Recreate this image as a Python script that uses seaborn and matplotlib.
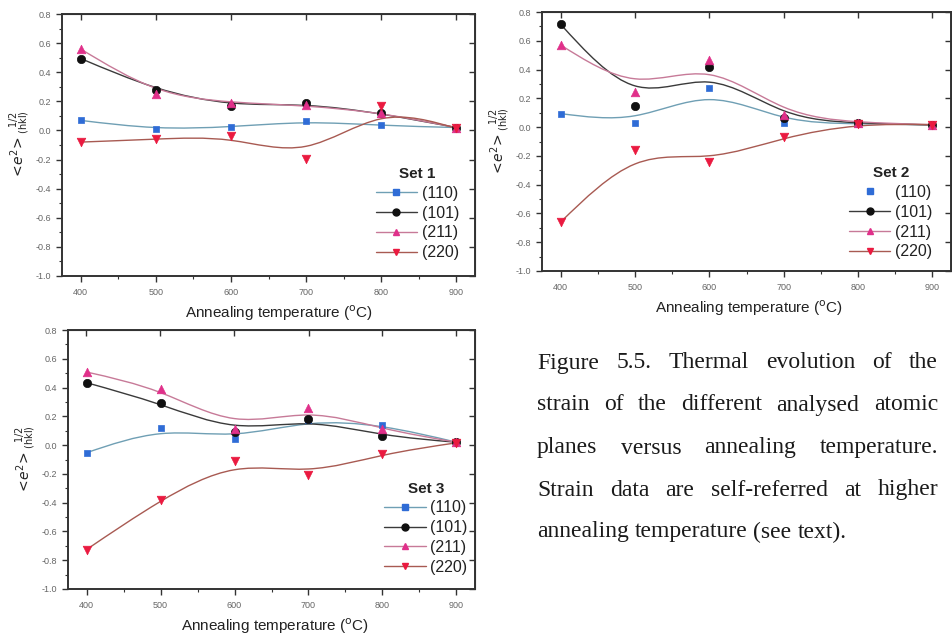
import numpy as np
import pandas as pd
import matplotlib
matplotlib.use("Agg")
import matplotlib.pyplot as plt
import seaborn as sns
from matplotlib.path import Path
from matplotlib.patches import PathPatch
from matplotlib.lines import Line2D
from matplotlib.ticker import MultipleLocator

# ---------------- data ----------------
temperatures = [400, 500, 600, 700, 800, 900]
planes = ["(110)", "(101)", "(211)", "(220)"]

set1_110 = [0.069, 0.007, 0.023, 0.064, 0.034, 0.020]
set1_101 = [0.494, 0.276, 0.168, 0.186, 0.117, 0.020]
set1_211 = [0.559, 0.248, 0.190, 0.172, 0.122, 0.020]
set1_220 = [-0.080, -0.060, -0.038, -0.195, 0.165, 0.015]

set2_110 = [0.094, 0.027, 0.272, 0.031, 0.024, 0.015]
set2_101 = [0.715, 0.147, 0.417, 0.060, 0.027, 0.015]
set2_211 = [0.571, 0.245, 0.464, 0.085, 0.031, 0.017]
set2_220 = [-0.660, -0.159, -0.242, -0.068, 0.024, 0.017]

set3_110 = [-0.053, 0.121, 0.044, 0.175, 0.142, 0.020]
set3_101 = [0.434, 0.290, 0.090, 0.183, 0.063, 0.020]
set3_211 = [0.508, 0.392, 0.114, 0.258, 0.109, 0.020]
set3_220 = [-0.726, -0.378, -0.111, -0.206, -0.060, 0.016]

set_names = ["Set 1", "Set 2", "Set 3"]
set_values = [
    [set1_110, set1_101, set1_211, set1_220],
    [set2_110, set2_101, set2_211, set2_220],
    [set3_110, set3_101, set3_211, set3_220],
]
y_ticks = [0.8, 0.6, 0.4, 0.2, 0.0, -0.2, -0.4, -0.6, -0.8, -1.0]
x_ticks = [400, 500, 600, 700, 800, 900]

caption_lines = [
    "Figure 5.5. Thermal evolution of the",
    "strain of the different analysed atomic",
    "planes versus annealing temperature.",
    "Strain data are self-referred at higher",
    "annealing temperature (see text).",
]

# ---------------- style ----------------
marker_colors = {"(110)": "#2f6cd6", "(101)": "#101010", "(211)": "#e0308a", "(220)": "#ea1a40"}
line_colors = {"(110)": "#6f9fb4", "(101)": "#3a3a3a", "(211)": "#c77a98", "(220)": "#a85a52"}
markers = {"(110)": "s", "(101)": "o", "(211)": "^", "(220)": "v"}
msizes = {"(110)": 24, "(101)": 36, "(211)": 38, "(220)": 38}

sns.set_style("ticks")
plt.rcParams["font.family"] = ["Liberation Sans", "DejaVu Sans"]

W, H = 953, 637
fig = plt.figure(figsize=(W / 100, H / 100), dpi=100)


def px_axes(l, t, r, b):
    return fig.add_axes([l / W, 1 - b / H, (r - l) / W, (b - t) / H])


axes_px = [(62, 14, 475, 276), (542, 12, 951, 271), (68, 330, 475, 589)]
legend_anchor = [(0.962, 0.06), (0.955, 0.045), (0.982, 0.055)]
xlabel_x = [0.525, 0.505, 0.509]


def bspline_path(xs, ys):
    P = np.column_stack([xs, ys]).astype(float)
    ext = np.vstack([2 * P[0] - P[1], P, 2 * P[-1] - P[-2]])
    verts = [P[0]]
    codes = [Path.MOVETO]
    for i in range(1, len(ext) - 2):
        p1, p2, p3 = ext[i], ext[i + 1], ext[i + 2]
        verts += [(2 * p1 + p2) / 3, (p1 + 2 * p2) / 3, (p1 + 4 * p2 + p3) / 6]
        codes += [Path.CURVE4] * 3
    return Path(verts, codes)


for k, (name, vals) in enumerate(zip(set_names, set_values)):
    ax = px_axes(*axes_px[k])
    df = pd.DataFrame({
        "T": np.tile(temperatures, len(planes)),
        "strain": np.concatenate(vals),
        "plane": np.repeat(planes, len(temperatures)),
    })
    for p, v in zip(planes, vals):
        ax.add_patch(PathPatch(bspline_path(temperatures, v), fill=False,
                               edgecolor=line_colors[p], lw=1.0, zorder=2))
    for p in planes:
        sub = df[df["plane"] == p]
        sns.scatterplot(data=sub, x="T", y="strain", ax=ax, marker=markers[p],
                        color=marker_colors[p], edgecolor=marker_colors[p],
                        s=msizes[p], linewidth=0.5, zorder=3, legend=False)
    ax.set_xlim(375, 925)
    ax.set_ylim(-1.0, 0.8)
    ax.set_xticks(x_ticks)
    ax.set_xticklabels([str(t) for t in x_ticks])
    ax.set_yticks(y_ticks)
    ax.set_yticklabels([f"{t:.1f}" for t in y_ticks])
    ax.xaxis.set_minor_locator(MultipleLocator(50))
    ax.yaxis.set_minor_locator(MultipleLocator(0.1))
    ax.tick_params(axis="both", which="major", labelsize=6.5, labelcolor="#666666",
                   color="#333333", width=1.0, length=4, direction="out")
    ax.tick_params(axis="both", which="minor", color="#333333", width=0.8, length=2.5,
                   direction="out")
    ax.tick_params(axis="x", pad=5)
    for s in ax.spines.values():
        s.set_visible(True)
        s.set_linewidth(1.4)
        s.set_color("#333333")
    axt = ax.secondary_xaxis("top")
    axt.set_xticks(x_ticks)
    axt.tick_params(direction="in", length=4, width=1.0, color="#333333", labeltop=False)
    axt.set_xticklabels([])
    axr = ax.secondary_yaxis("right")
    axr.set_yticks(y_ticks)
    axr.tick_params(direction="in", length=4, width=1.0, color="#333333", labelright=False)
    axr.set_yticklabels([])

    ax.set_xlabel("Annealing temperature ($^{\\rm o}$C)", fontsize=11, color="#222222",
                  labelpad=4)
    ax.xaxis.set_label_coords(xlabel_x[k], -0.105)
    ax.set_ylabel(r"$<\!e^2\!>_{\rm (hkl)}^{\ \ 1/2}$", fontsize=10, color="#222222",
                  labelpad=2)

    handles = []
    for p in planes:
        ls = "-" if not (k == 1 and p == "(110)") else "none"
        handles.append(Line2D([], [], color=line_colors[p], lw=1.0, ls=ls, marker=markers[p],
                              markersize=5.0 if p != "(110)" else 4.0,
                              markerfacecolor=marker_colors[p],
                              markeredgecolor=marker_colors[p]))
    leg = ax.legend(handles, planes, title=name, loc="lower right",
                    bbox_to_anchor=legend_anchor[k], frameon=False, fontsize=11.5,
                    title_fontproperties={"weight": "bold", "size": 11},
                    handlelength=2.6, handletextpad=0.3, labelspacing=0.3,
                    borderaxespad=0.0, borderpad=0.0)
    for t in leg.get_texts():
        t.set_color("#222222")
    leg.get_title().set_color("#222222")

# ---------------- caption (justified) ----------------
fig.canvas.draw()
renderer = fig.canvas.get_renderer()
cap_left, cap_right = 537, 938
line_y = [363, 405, 448, 490, 532]
fsize = 17
cap_kw = dict(fontsize=fsize, family=["Liberation Serif", "DejaVu Serif"], color="#1a1a1a",
              va="center", ha="left")
tmp = fig.text(0, 0, "a a", **cap_kw)
tmp2 = fig.text(0, 0, "aa", **cap_kw)
space_w = tmp.get_window_extent(renderer).width - tmp2.get_window_extent(renderer).width
tmp.remove()
tmp2.remove()
for i, line in enumerate(caption_lines):
    words = line.split(" ")
    texts = [fig.text(0, 1 - line_y[i] / H, w, **cap_kw) for w in words]
    widths = [t.get_window_extent(renderer).width for t in texts]
    if i < len(caption_lines) - 1 and len(words) > 1:
        gap = (cap_right - cap_left - sum(widths)) / (len(words) - 1)
    else:
        gap = space_w
    x = cap_left
    for t, w in zip(texts, widths):
        t.set_x(x / W)
        x += w + gap

fig.savefig("out.png", dpi=100)
